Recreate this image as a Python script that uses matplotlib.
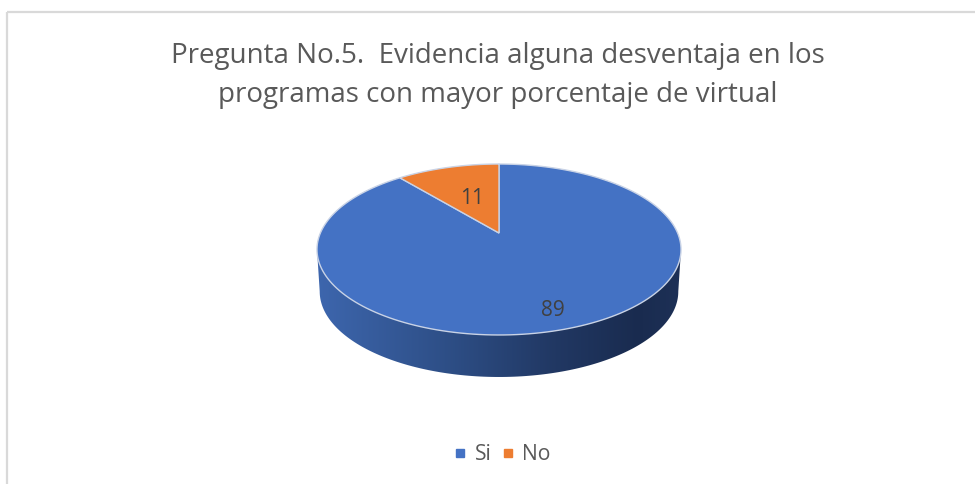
import numpy as np
import matplotlib
matplotlib.use("Agg")
import matplotlib.pyplot as plt
from matplotlib.patches import Polygon, Rectangle
from matplotlib.lines import Line2D

plt.rcParams["font.family"] = ["Open Sans", "DejaVu Sans"]

title_lines = ["Pregunta No.5.  Evidencia alguna desventaja en los",
               "programas con mayor porcentaje de virtual"]
labels = ["Si", "No"]
values = [89, 11]
colors = ["#4472C4", "#ED7D31"]

# pie geometry, in pixels of the picture
cx, cy = 499, 233
half_w = 178.6
half_h = 82.3
persp = 0.193
depth = 42


def project(theta, r=1.0, dy=0, shrink=1.0):
    # theta clockwise from the top, tilted disc in perspective
    u = r * np.sin(theta)
    v = r * np.cos(theta)
    w = 1 + persp * v
    return np.column_stack([cx + shrink * half_w * u / w,
                            cy + dy - half_h * v / w])


fig, ax = plt.subplots(figsize=(9.75, 4.84), dpi=100)
ax.set_position([0, 0, 1, 1])
ax.set_xlim(0, 975)
ax.set_ylim(484, 0)
ax.axis("off")

# frame runs off the picture at right and bottom
ax.add_patch(Rectangle((7, 12), 985, 490, fill=False, ec="#D9D9D9", lw=1.6, zorder=1))

# side wall with a left to right shading
t = np.linspace(0, 2 * np.pi, 361)
top = project(t)
low = project(t, dy=depth, shrink=0.985)
left = np.argmin(top[:, 0])
right = np.argmax(top[:, 0])
low_front = low[right:left + 1]
wall_xy = np.vstack([top[left], top[right], low_front])
wall = Polygon(wall_xy, closed=True, fc="none", ec="none")
ax.add_patch(wall)

stops = np.array([[0.24, 0.40, 0.68], [0.18, 0.31, 0.53], [0.13, 0.22, 0.39],
                  [0.10, 0.17, 0.31], [0.115, 0.19, 0.34]])
pos = np.array([0.0, 0.35, 0.65, 0.88, 1.0])
xs = np.linspace(0, 1, 256)
grad = np.column_stack([np.interp(xs, pos, stops[:, i]) for i in range(3)])[None, :, :]
im = ax.imshow(grad, extent=[top[left, 0], top[right, 0], 400, 200],
               aspect="auto", zorder=2)
im.set_clip_path(wall)
ax.set_xlim(0, 975)
ax.set_ylim(484, 0)

# top face, the wedges start at 12 o'clock and run clockwise
fracs = np.array(values) / sum(values)
start = 0.0
for frac, col in zip(fracs, colors):
    a = np.linspace(start, start + frac * 2 * np.pi, 200)
    pts = np.vstack([[cx, cy], project(a)])
    ax.add_patch(Polygon(pts, closed=True, fc=col, ec="#C9D3E6", lw=1.0, zorder=3))
    start += frac * 2 * np.pi

ax.text(553, 310.5, str(values[0]), ha="center", va="center", fontsize=15, color="#404040", zorder=4)
ax.text(472, 198, str(values[1]), ha="center", va="center", fontsize=15, color="#404040", zorder=4)

ax.text(498, 56, title_lines[0], ha="center", va="center", fontsize=20, color="#595959")
ax.text(498, 95, title_lines[1], ha="center", va="center", fontsize=20, color="#595959")

handles = [Line2D([], [], ls="none", marker="s", ms=5.5, color=c, label=l)
           for c, l in zip(colors, labels)]
ax.legend(handles=handles, loc="center", bbox_to_anchor=(500 / 975, 1 - 455 / 484),
          ncol=2, frameon=False, fontsize=15.2, labelcolor="#595959",
          handletextpad=0.2, columnspacing=0.27, handlelength=1.0)

fig.savefig("out.png", dpi=100, facecolor="white")
